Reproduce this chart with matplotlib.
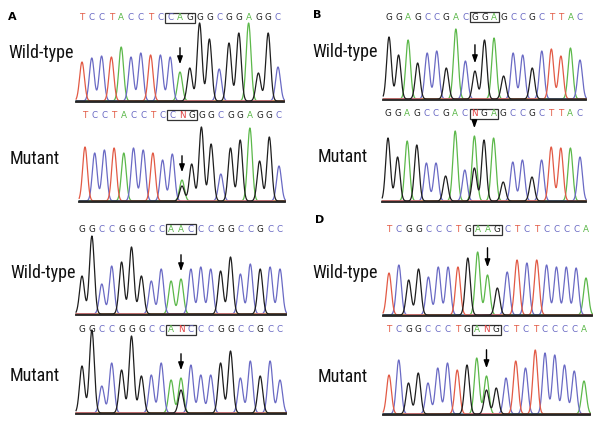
import numpy as np
import matplotlib
matplotlib.use('Agg')
import matplotlib.pyplot as plt
from matplotlib.patches import Rectangle
from matplotlib import font_manager

# called sequences shown above each trace
seq_a_wt = "TCCTACCTCCAGGGCGGAGGC"
seq_a_mut = "TCCTACCTCCNGGGCGGAGGC"
seq_b_wt = "GGAGCCGACGGAGCCGCTTAC"
seq_b_mut = "GGAGCCGACNGAGCCGCTTAC"
seq_c_wt = "GGCCGGGCCAACCCGGCCGCC"
seq_c_mut = "GGCCGGGCCANCCCGGCCGCC"
seq_d_wt = "TCGGCCCTGAAGCTCTCCCCA"
seq_d_mut = "TCGGCCCTGANGCTCTCCCCA"

# dye of the main peak at each position
bases_a_mut = "TCCTACCTCCAGGGCGGAGGC"
bases_b_mut = "GGAGCCGACAGAGCCGCTTAC"
bases_c_mut = "GGCCGGGCCAACCCGGCCGCC"
bases_d_mut = "TCGGCCCTGAAGCTCTCCCCA"

# peak heights
h_a_wt = [39, 43, 45, 44, 54, 44, 48, 46, 46, 44, 29, 33, 78, 62, 32, 58, 68, 78, 28, 68, 34]
h_a_mut = [54, 48, 51, 53, 48, 53, 51, 48, 41, 47, 21, 37, 74, 57, 27, 53, 61, 73, 40, 64, 35]
h_b_wt = [62, 44, 59, 36, 46, 48, 31, 70, 38, 28, 59, 61, 23, 46, 44, 31, 48, 50, 43, 51, 39]
h_b_mut = [63, 44, 60, 56, 38, 38, 25, 70, 31, 65, 61, 63, 19, 39, 41, 24, 41, 54, 53, 53, 44]
h_c_wt = [38, 78, 30, 48, 52, 67, 38, 33, 45, 33, 35, 45, 47, 45, 43, 57, 40, 50, 45, 47, 45]
h_c_mut = [47, 83, 27, 50, 43, 77, 37, 38, 50, 33, 35, 48, 38, 38, 50, 62, 35, 52, 37, 52, 33]
h_d_wt = [42, 50, 35, 46, 38, 48, 48, 48, 57, 63, 40, 27, 43, 55, 52, 55, 50, 48, 48, 47, 37]
h_d_mut = [39, 54, 31, 41, 31, 46, 51, 44, 49, 56, 38, 26, 36, 53, 46, 64, 61, 59, 49, 43, 33]

# overlapping secondary peaks: (position, dye, height)
extra_a_mut = [(10, 'G', 15)]
extra_b_mut = [(9, 'G', 33)]
extra_c_mut = [(10, 'G', 23)]
extra_d_mut = [(10, 'G', 24)]

# position of the boxed codon (first base) and of the arrow
box_a, arrow_a = 9, 10
box_b, arrow_b = 9, 9
box_c, arrow_c = 9, 10
box_d, arrow_d = 9, 10

colors = {'A': '#5cb84a', 'C': '#6a6ac4', 'G': '#1e1e1e', 'T': '#e25a45', 'N': '#e04040'}

# a narrow face for the row labels, if one is installed
names = {f.name for f in font_manager.fontManager.ttflist}
narrow = [n for n in ['Liberation Sans Narrow', 'Roboto Condensed', 'Open Sans Condensed',
                      'Noto Sans Condensed', 'DejaVu Sans Condensed'] if n in names]

W, H = 600, 424
fig = plt.figure(figsize=(6, 4.24), dpi=100)


def trace(x0, x1, base, ty, seq, bases, heights, extra, box, arrow, alen=22):
    n = len(seq)
    sp = (x1 - x0) / (n - 1)
    top = ty - 9
    ax = fig.add_axes([(x0 - 0.75 * sp) / W, (H - base - 2) / H,
                       (x1 - x0 + 1.5 * sp) / W, (base + 2 - top) / H])
    ax.set_xlim(-0.75, n - 1 + 0.75)
    ax.set_ylim(-2, base - top)
    ax.axis('off')
    x = np.linspace(-0.6, n - 1 + 0.65, 1200)
    s = 0.245
    for b in 'ACTG':
        y = np.zeros_like(x)
        for i, (bb, hh) in enumerate(zip(bases, heights)):
            if bb == b:
                y += hh * np.exp(-0.5 * ((x - i) / s) ** 2)
        for (i, bb, hh) in extra:
            if bb == b:
                y += hh * np.exp(-0.5 * ((x - i) / s) ** 2)
        ax.plot(x, y, color=colors[b], lw=0.9, solid_joinstyle='round')
    ax.plot([x[0], x[-1]], [-0.8, -0.8], color='#222222', lw=1.3)
    ly = base - ty
    for i, ch in enumerate(seq):
        ax.text(i, ly, ch, color=colors[ch], fontsize=6.3, ha='center', va='center',
                family='DejaVu Sans')
    ax.add_patch(Rectangle((box - 0.5, ly - 4.6), 3, 9.2, fill=False,
                           ec='#333333', lw=0.9, clip_on=False))
    hp = max([heights[arrow]] + [e[2] for e in extra if e[0] == arrow])
    ax.annotate('', xy=(arrow, hp + 5), xytext=(arrow, hp + 5 + alen),
                arrowprops=dict(arrowstyle='-|>,head_length=0.45,head_width=0.16',
                                color='black', lw=1.0))
    return ax


trace(82, 278, 101, 18, seq_a_wt, seq_a_wt, h_a_wt, [], box_a, arrow_a)
trace(85, 279, 201, 115, seq_a_mut, bases_a_mut, h_a_mut, extra_a_mut, box_a, arrow_a)
trace(389, 580, 99, 17, seq_b_wt, seq_b_wt, h_b_wt, [], box_b, arrow_b, 24)
trace(388, 580, 201, 114, seq_b_mut, bases_b_mut, h_b_mut, extra_b_mut, box_b, arrow_b, 13)
trace(82, 280, 314, 229, seq_c_wt, seq_c_wt, h_c_wt, [], box_c, arrow_c)
trace(82, 280, 413, 330, seq_c_mut, bases_c_mut, h_c_mut, extra_c_mut, box_c, arrow_c)
trace(389, 586, 315, 230, seq_d_wt, seq_d_wt, h_d_wt, [], box_d, arrow_d, 25)
trace(389, 584, 414, 330, seq_d_mut, bases_d_mut, h_d_mut, extra_d_mut, box_d, arrow_d, 24)

lab = dict(fontsize=13, family=narrow + ['DejaVu Sans'], fontstretch='condensed',
           va='baseline', ha='left', color='#111111')
for (x, y, t) in [(8, 58, 'Wild-type'), (10, 164, 'Mutant'),
                  (312, 57, 'Wild-type'), (318, 162, 'Mutant'),
                  (10, 278, 'Wild-type'), (10, 381, 'Mutant'),
                  (312, 278, 'Wild-type'), (318, 382, 'Mutant')]:
    fig.text(x / W, 1 - y / H, t, **lab)

for (x, y, t) in [(8, 17, 'A'), (313, 15, 'B'), (315, 220, 'D')]:
    fig.text(x / W, 1 - y / H, t, fontsize=8, fontweight='bold', va='center', ha='left')

fig.savefig('out.png', dpi=100)
